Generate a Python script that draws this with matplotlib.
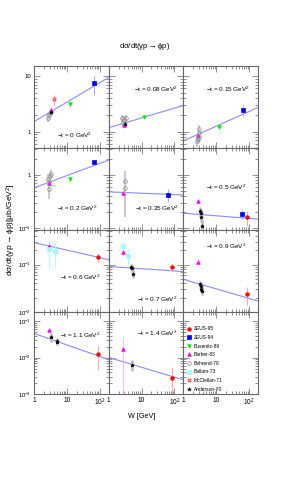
import matplotlib
matplotlib.use('Agg')
import matplotlib.pyplot as plt
import matplotlib.ticker as mticker
from matplotlib.lines import Line2D
import numpy as np

# fonts
plt.rcParams['font.family'] = ['Liberation Sans', 'DejaVu Sans']
plt.rcParams['mathtext.default'] = 'regular'

# ---- data ----
t_labels = ['0', '0.08', '0.15', '0.2', '0.35', '0.5', '0.6', '0.7', '0.9', '1.1', '1.4']

# power-law fits: value = norm * W**slope
fit_norm = [1.52, 1.18, 0.686, 0.57, 0.48, 0.19, 0.29, 0.091, 0.049, 0.046, 0.0101]
fit_slope = [0.350, 0.176, 0.264, 0.230, -0.026, -0.048, -0.158, -0.047, -0.202, -0.316, -0.271]

zeus95_panel = [5, 6, 7, 8, 9, 10]
zeus95_w = [87, 89, 85, 87, 89, 85]
zeus95_val = [0.16, 0.145, 0.09, 0.024, 0.0127, 0.0028]
zeus95_err = [0.05, 0.03, 0.02, 0.01, 0.008, 0.0026]

zeus94_panel = [0, 2, 3, 4, 5]
zeus94_w = [66, 64, 66, 63, 62]
zeus94_val = [7.4, 2.5, 1.71, 0.425, 0.186]
zeus94_err = [2.8, 0.55, 0.15, 0.11, 0.035]

busenitz_panel = [0, 1, 2, 3]
busenitz_w = [12.3, 11.7, 12.3, 12.3]
busenitz_val = [3.2, 1.87, 1.22, 0.83]
busenitz_err = [0.3, 0.1, 0.08, 0.06]

barber_panel = [0, 1, 2, 3, 4, 5, 6, 7, 8, 9, 10]
barber_w = [3.3, 2.85, 2.8, 2.9, 2.7, 2.8, 2.85, 2.7, 2.8, 2.85, 2.7]
barber_val = [2.5, 1.34, 0.86, 0.69, 0.46, 0.32, 0.245, 0.18, 0.114, 0.056, 0.0174]
barber_err = [0.3, 0.15, 0.08, 0.08, 0.06, 0.03, 0.04, 0.03, 0.015, 0.01, 0.0165]

behrend_panel = [0, 0, 0, 1, 1, 1, 1, 2, 2, 2, 2, 2, 3, 3, 3, 3, 3, 4, 4]
behrend_w = [2.7, 2.9, 3.1, 2.5, 2.7, 2.9, 3.3, 2.6, 2.7, 2.9, 3.0, 3.1, 2.7, 2.8, 2.9, 3.0, 3.2, 3.1, 3.1]
behrend_val = [1.8, 2.0, 2.2, 1.75, 1.45, 1.65, 1.75, 0.68, 0.75, 1.1, 0.8, 0.95,
               0.85, 0.55, 0.75, 0.95, 1.02, 0.77, 0.56]
behrend_err = [0.3, 0.3, 0.3, 0.25, 0.25, 0.25, 0.25, 0.15, 0.15, 0.2, 0.15, 0.2,
               0.2, 0.2, 0.2, 0.2, 0.2, 0.4, 0.4]

ballam_panel = [6, 6, 7, 7]
ballam_w = [2.85, 4.3, 2.7, 3.8]
ballam_val = [0.21, 0.19, 0.245, 0.15]
ballam_err = [0.12, 0.1, 0.06, 0.05]

mcclellan_panel = [0]
mcclellan_w = [4.0]
mcclellan_val = [3.8]
mcclellan_err = [0.8]

anderson_panel = [0, 1, 5, 5, 5, 5, 7, 7, 7, 8, 8, 8, 8, 9, 9, 9, 10]
anderson_w = [3.4, 3.1, 3.3, 3.4, 3.4, 3.6, 4.85, 5.0, 5.4, 3.3, 3.4, 3.5, 3.6, 3.4, 4.9, 5.1, 5.2]
anderson_val = [2.3, 1.4, 0.21, 0.19, 0.16, 0.11, 0.09, 0.085, 0.063,
                0.039, 0.035, 0.031, 0.028, 0.037, 0.029, 0.027, 0.0064]
anderson_err = [0.3, 0.2, 0.04, 0.04, 0.03, 0.03, 0.015, 0.015, 0.012,
                0.006, 0.006, 0.005, 0.005, 0.01, 0.005, 0.005, 0.002]

# experiment styles: (label, panels, W, value, error, marker, colour, facecolour, bar colour, bar width)
experiments = [
    ('ZEUS-95', zeus95_panel, zeus95_w, zeus95_val, zeus95_err, 'o', '#ff0000', '#ff0000', '#ff9999', 0.6),
    ('ZEUS-94', zeus94_panel, zeus94_w, zeus94_val, zeus94_err, 's', '#0000ff', '#0000ff', '#9999ff', 0.6),
    ('Busenitz-89', busenitz_panel, busenitz_w, busenitz_val, busenitz_err, 'v', '#00ee00', '#00ee00', '#99ff99', 0.6),
    ('Barber-83', barber_panel, barber_w, barber_val, barber_err, '^', '#ff00ff', '#ff00ff', '#ffaaff', 0.6),
    ('Behrend-78', behrend_panel, behrend_w, behrend_val, behrend_err, 'o', '#888888', 'none', '#cccccc', 1.5),
    ('Ballam-73', ballam_panel, ballam_w, ballam_val, ballam_err, 's', '#99ffff', '#99ffff', '#aaffff', 0.8),
    ('McClellan-71', mcclellan_panel, mcclellan_w, mcclellan_val, mcclellan_err, 'X', '#ff6666', '#ff6666', '#ffaaaa', 0.8),
    ('Anderson-70', anderson_panel, anderson_w, anderson_val, anderson_err, '*', '#000000', '#000000', '#bbbbbb', 1.8),
]

row_ylims = [(0.51, 15.2), (0.092, 3.2), (0.01, 0.535), (0.001, 0.178)]
wmin, wmax = 1.0, 187.0

# label positions in axes fraction
label_pos = [(0.55, 0.15), (0.63, 0.72), (0.6, 0.72), (0.58, 0.27), (0.65, 0.27),
             (0.57, 0.52), (0.62, 0.42), (0.65, 0.16), (0.57, 0.8), (0.62, 0.72), (0.65, 0.74)]

frame_col = '#666666'


def x_fmt(v, pos):
    if abs(v - 1) < 1e-6:
        return '1'
    if abs(v - 10) < 1e-6:
        return '10'
    return r'$10^{%d}$' % int(round(np.log10(v)))


def y_fmt(v, pos):
    if abs(v - 1) < 1e-9:
        return '1'
    if abs(v - 10) < 1e-9:
        return '10'
    return r'$10^{%d}$' % int(round(np.log10(v)))


fig, axes = plt.subplots(4, 3, figsize=(3.0, 4.91), dpi=100, sharex=True, sharey='row')
fig.subplots_adjust(left=34 / 300, right=258 / 300, top=1 - 66 / 491, bottom=1 - 394 / 491,
                    wspace=0, hspace=0)

for i, ax in enumerate(axes.flat):
    r = i // 3
    ax.set_xscale('log')
    ax.set_yscale('log')
    ax.set_xlim(wmin, wmax)
    ax.set_ylim(*row_ylims[r])
    for s in ax.spines.values():
        s.set_color(frame_col)
        s.set_linewidth(0.8)
    ax.tick_params(which='both', direction='in', top=True, right=True, color=frame_col,
                   pad=2, width=0.5)
    ax.tick_params(axis='x', labelsize=4.8)
    ax.tick_params(axis='y', labelsize=4.2)
    ax.tick_params(which='major', length=4)
    ax.tick_params(which='minor', length=2)
    ax.xaxis.set_major_locator(mticker.LogLocator(base=10, numticks=10))
    ax.xaxis.set_minor_locator(mticker.LogLocator(base=10, subs=np.arange(2, 10), numticks=20))
    ax.yaxis.set_minor_locator(mticker.LogLocator(base=10, subs=np.arange(2, 10), numticks=20))
    ax.xaxis.set_major_formatter(mticker.FuncFormatter(x_fmt))
    ax.yaxis.set_major_formatter(mticker.FuncFormatter(y_fmt))
    ax.xaxis.set_minor_formatter(mticker.NullFormatter())
    ax.yaxis.set_minor_formatter(mticker.NullFormatter())

    if i < len(t_labels):
        # fit line
        ww = np.array([wmin, wmax])
        ax.plot(ww, fit_norm[i] * ww ** fit_slope[i], color='#8c8cff', lw=0.8, zorder=2)
        ax.text(label_pos[i][0], label_pos[i][1], r'$-$t = %s GeV$^2$' % t_labels[i],
                transform=ax.transAxes, ha='center', va='center', fontsize=4.6)

# data points
legend_handles = []
for (name, panels, ws, vals, errs, mk, col, fc, bcol, blw) in experiments:
    for p, w, v, e in zip(panels, ws, vals, errs):
        ax = axes.flat[p]
        lo = min(e, v * 0.95)
        ax.errorbar([w], [v], yerr=[[lo], [e]], fmt='none', ecolor=bcol, elinewidth=blw,
                    capsize=0, zorder=3)
        ax.plot([w], [v], marker=mk, color=col, mfc=fc, mec=col, ms=2.6, mew=0.5,
                ls='none', zorder=4)
    legend_handles.append(Line2D([], [], marker=mk, color=col, mfc=fc, mec=col, ms=2.6,
                                mew=0.5, ls='none', label=name))

# legend in the empty panel
axes[3, 2].legend(handles=legend_handles, loc='upper left', bbox_to_anchor=(0.02, 0.85),
                  frameon=False, fontsize=3.5, handlelength=1.0, handletextpad=0.4,
                  labelspacing=0.75, borderaxespad=0)

fig.text(145 / 300, 1 - 46 / 491, r'd$\sigma$/dt($\gamma$p$\rightarrow$$\phi$p)',
         ha='center', va='center', fontsize=5.5)
fig.text(142 / 300, 1 - 417 / 491, 'W [GeV]', ha='center', va='center', fontsize=5.2)
fig.text(11 / 300, 1 - 230 / 491, r'd$\sigma$/dt($\gamma$p$\rightarrow$$\phi$p)[$\mu$b/GeV$^2$]',
         ha='center', va='center', rotation=90, fontsize=6.0)

fig.savefig('out.png', dpi=100, facecolor='white')
